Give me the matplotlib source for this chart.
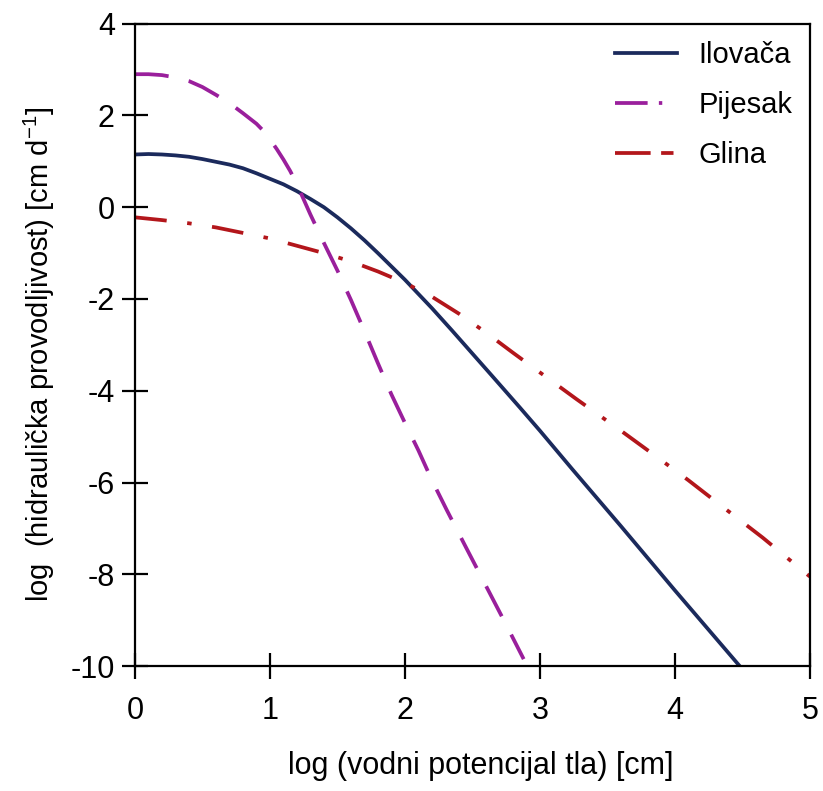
import numpy as np
import matplotlib
matplotlib.use('Agg')
import matplotlib.pyplot as plt
from matplotlib.lines import Line2D

plt.rcParams['font.family'] = ['Liberation Sans', 'DejaVu Sans']

# Values
# Ilovača (loam)
x_ilovaca = [0.0, 0.1, 0.2, 0.3, 0.4, 0.5, 0.6, 0.7, 0.8, 0.9, 1.0, 1.1, 1.2, 1.3, 1.4, 1.5,
             1.6, 1.7, 1.8, 1.9, 2.0, 2.1, 2.2, 2.35, 2.5, 2.65, 2.85, 3.0, 3.24, 3.6, 4.0, 4.48]
y_ilovaca = [1.15, 1.16, 1.15, 1.13, 1.1, 1.05, 0.99, 0.93, 0.85, 0.74, 0.62, 0.5, 0.35, 0.18, 0.0, -0.22,
             -0.46, -0.72, -1.0, -1.29, -1.58, -1.89, -2.2, -2.69, -3.19, -3.69, -4.36, -4.87, -5.71, -6.95, -8.35, -10.0]

# Pijesak (sand)
x_pijesak = [0.0, 0.1, 0.2, 0.3, 0.4, 0.5, 0.6, 0.7, 0.8, 0.9, 0.95, 1.0, 1.05, 1.1, 1.15, 1.2, 1.3, 1.4,
             1.5, 1.6, 1.7, 1.8, 1.9, 2.0, 2.1, 2.2, 2.31, 2.45, 2.6, 2.75, 2.88]
y_pijesak = [2.9, 2.9, 2.88, 2.83, 2.75, 2.62, 2.45, 2.27, 2.05, 1.82, 1.67, 1.48, 1.27, 1.04, 0.79, 0.5, -0.16, -0.78,
             -1.38, -2.02, -2.7, -3.4, -4.08, -4.7, -5.3, -5.95, -6.6, -7.4, -8.25, -9.1, -9.85]

# Glina (clay)
x_glina = [0.0, 0.2, 0.4, 0.6, 0.8, 1.0, 1.2, 1.4, 1.6, 1.8, 2.0, 2.2, 2.4, 2.6, 2.8,
           3.0, 3.27, 3.6, 3.87, 4.1, 4.31, 4.65, 5.0]
y_glina = [-0.22, -0.28, -0.35, -0.44, -0.56, -0.68, -0.84, -1.0, -1.18, -1.4, -1.65, -1.95, -2.32, -2.73, -3.17,
           -3.6, -4.18, -4.87, -5.45, -5.95, -6.43, -7.2, -8.05]

labels = ['Ilovača', 'Pijesak', 'Glina']
x_ticks = [0, 1, 2, 3, 4, 5]
y_ticks = [4, 2, 0, -2, -4, -6, -8, -10]

c_ilovaca = '#1b2a5c'
c_pijesak = '#9a1f9c'
c_glina = '#b3161b'

fig = plt.figure(figsize=(8.23, 7.91), dpi=100)
ax = fig.add_axes([0.164, 0.158, 0.820, 0.812])

lw = 2.7
ax.plot(x_ilovaca, y_ilovaca, color=c_ilovaca, lw=lw)
ax.plot(x_pijesak, y_pijesak, color=c_pijesak, lw=lw, linestyle=(0, (9, 5.5)))
ax.plot(x_glina, y_glina, color=c_glina, lw=lw, linestyle=(0, (8.5, 5.5, 1.2, 5.5)))

ax.set_xlim(0, 5)
ax.set_ylim(-10, 4)
ax.set_xticks(x_ticks)
ax.set_yticks(y_ticks)
ax.set_xticklabels([str(t) for t in x_ticks])
ax.set_yticklabels([str(t) for t in y_ticks])

for s in ax.spines.values():
    s.set_linewidth(1.6)
ax.tick_params(axis='both', direction='inout', length=19, width=1.6, labelsize=22)
ax.tick_params(axis='x', pad=12)
ax.tick_params(axis='y', pad=5)

ax.set_xlabel('log (vodni potencijal tla) [cm]', fontsize=22, labelpad=18, x=0.513)
ax.set_ylabel('log  (hidraulička provodljivost) [cm d$^{\\mathregular{-1}}$]', fontsize=21,
              labelpad=10, y=0.485)

# legend handles as drawn in the original figure
handles = [
    Line2D([], [], color=c_ilovaca, lw=lw),
    Line2D([], [], color=c_pijesak, lw=lw, linestyle=(0, (8.7, 3.0, 0.9, 20))),
    Line2D([], [], color=c_glina, lw=lw, linestyle=(0, (9.5, 2.8, 3.3, 20))),
]
ax.legend(handles, labels, loc='upper right', frameon=False, fontsize=21,
          handlelength=2.1, handletextpad=0.75, labelspacing=0.75,
          borderaxespad=0.2, borderpad=0.4)

fig.savefig('out.png', dpi=100)
